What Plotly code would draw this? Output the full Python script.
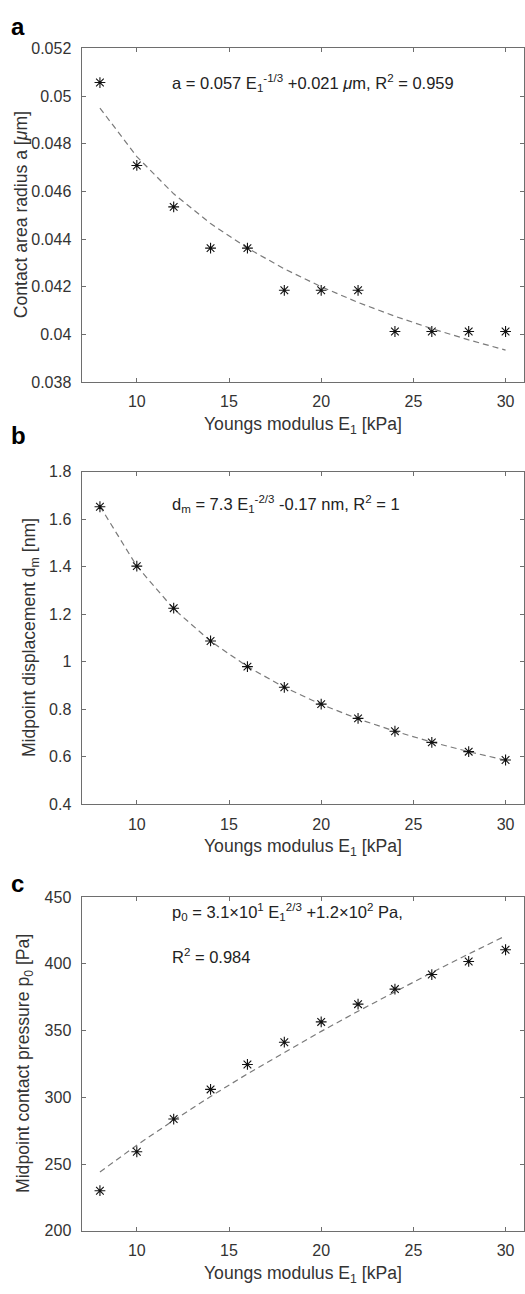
import plotly.graph_objects as go

# ---------------- data ----------------
E_kPa = [8, 10, 12, 14, 16, 18, 20, 22, 24, 26, 28, 30]

a_um = [0.05057, 0.04709, 0.04535, 0.04362, 0.04362, 0.04185,
        0.04185, 0.04185, 0.04012, 0.04012, 0.04012, 0.04012]
a_fit = [0.0495, 0.04746, 0.04590, 0.04465, 0.04362, 0.04275,
         0.04200, 0.04134, 0.04076, 0.04024, 0.03977, 0.03934]

dm_nm = [1.653, 1.403, 1.226, 1.088, 0.980, 0.893,
         0.822, 0.762, 0.708, 0.661, 0.622, 0.587]
dm_fit = [1.655, 1.403, 1.223, 1.087, 0.980, 0.893,
          0.821, 0.760, 0.708, 0.662, 0.622, 0.586]

p0_Pa = [230.0, 259.2, 283.7, 305.9, 324.6, 341.3,
         356.5, 369.8, 381.1, 392.0, 401.8, 410.6]
p0_fit = [244.0, 264.1, 282.8, 300.6, 317.6, 333.8,
          349.4, 364.5, 379.2, 393.5, 407.4, 421.0]

x_ticks = [10, 15, 20, 25, 30]
a_ticks = [0.038, 0.040, 0.042, 0.044, 0.046, 0.048, 0.050, 0.052]
a_ticktext = ["0.038", "0.04", "0.042", "0.044", "0.046", "0.048", "0.05", "0.052"]
dm_ticks = [0.4, 0.6, 0.8, 1.0, 1.2, 1.4, 1.6, 1.8]
dm_ticktext = ["0.4", "0.6", "0.8", "1", "1.2", "1.4", "1.6", "1.8"]
p0_ticks = [200, 250, 300, 350, 400, 450]
p0_ticktext = ["200", "250", "300", "350", "400", "450"]

# ---------------- layout helpers ----------------
W, H = 525, 1294
FONT = "Liberation Sans, Arial, Helvetica, sans-serif"
TXT = "#333333"
LINE = "#6e6e6e"
TICK_SIZE = 16
TITLE_SIZE = 17.6
EQ_SIZE = 16.5


def py(px):
    return 1 - px / H


def px_x(px):
    return px / W


x_dom = [px_x(81.5), px_x(524)]
panels = [  # top px, bottom px
    (41, 379),
    (470, 807),
    (901, 1239),
]

fig = go.Figure()

series = [
    (a_um, a_fit, "x", "y"),
    (dm_nm, dm_fit, "x2", "y2"),
    (p0_Pa, p0_fit, "x3", "y3"),
]
for data, fit, xa, ya in series:
    fig.add_trace(go.Scatter(
        x=E_kPa, y=fit, mode="lines", xaxis=xa, yaxis=ya,
        line=dict(color="#7a7a7a", width=1.2, dash="6px,4px"),
        showlegend=False, hoverinfo="skip"))
    fig.add_trace(go.Scatter(
        x=E_kPa, y=data, mode="markers", xaxis=xa, yaxis=ya,
        marker=dict(symbol="asterisk-open", size=9, color="#111111",
                    line=dict(color="#111111", width=1.1)),
        showlegend=False))

axis_common = dict(
    showline=True, linecolor=LINE, linewidth=1, mirror="ticks",
    ticks="inside", ticklen=4, tickcolor=LINE, tickwidth=1,
    showgrid=False, zeroline=False,
    tickfont=dict(family=FONT, size=TICK_SIZE, color=TXT),
)

yinfo = [
    ([0.038, 0.052], a_ticks, a_ticktext),
    ([0.4, 1.8], dm_ticks, dm_ticktext),
    ([200, 450], p0_ticks, p0_ticktext),
]

layout = dict(
    width=W, height=H,
    margin=dict(l=0, r=0, t=0, b=0),
    paper_bgcolor="white", plot_bgcolor="white",
    font=dict(family=FONT, size=TICK_SIZE, color=TXT),
)
for i, ((top, bot), (yr, yt, ytt)) in enumerate(zip(panels, yinfo)):
    sfx = "" if i == 0 else str(i + 1)
    layout["xaxis" + sfx] = dict(
        axis_common, domain=x_dom, range=[7, 31], tickvals=x_ticks,
        anchor="y" + sfx, ticklabelstandoff=5)
    layout["yaxis" + sfx] = dict(
        axis_common, domain=[py(bot), py(top)], range=yr, tickvals=yt,
        ticktext=ytt, anchor="x" + sfx, ticklabelstandoff=6)

fig.update_layout(**layout)

annotations = []
# panel letters
for letter, ypx in [("a", 19), ("b", 433), ("c", 887)]:
    annotations.append(dict(
        text="<b>%s</b>" % letter, xref="paper", yref="paper",
        x=px_x(9), y=py(ypx), xanchor="left", yanchor="middle",
        showarrow=False, font=dict(family=FONT, size=24, color="#000000")))

# x-axis titles
for top, bot in panels:
    annotations.append(dict(
        text="Youngs modulus E<sub>1</sub> [kPa]", xref="paper", yref="paper",
        x=(x_dom[0] + x_dom[1]) / 2, y=py(bot + 44), xanchor="center",
        yanchor="middle", showarrow=False,
        font=dict(family=FONT, size=TITLE_SIZE, color=TXT)))

# y-axis titles
ytitles = [
    ("Contact area radius a [<i>μ</i>m]", 21),
    ("Midpoint displacement d<sub>m</sub> [nm]", 30),
    ("Midpoint contact pressure p<sub>0</sub> [Pa]", 25),
]
for (top, bot), (txt, xc) in zip(panels, ytitles):
    annotations.append(dict(
        text=txt, xref="paper", yref="paper", x=px_x(xc),
        y=py((top + bot) / 2), xanchor="center", yanchor="middle",
        textangle=-90, showarrow=False,
        font=dict(family=FONT, size=TITLE_SIZE, color=TXT)))

# fit equations
eq_font = dict(family=FONT, size=EQ_SIZE, color="#222222")
annotations += [
    dict(text="a = 0.057 E<sub>1</sub><sup>-1/3</sup> +0.021 <i>μ</i>m, R<sup>2</sup> = 0.959",
         xref="x", yref="y", x=11.8, y=0.05057, xanchor="left", yanchor="middle",
         showarrow=False, font=eq_font),
    dict(text="d<sub>m</sub> = 7.3 E<sub>1</sub><sup>-2/3</sup> -0.17 nm, R<sup>2</sup> = 1",
         xref="x2", yref="y2", x=11.8, y=1.663, xanchor="left", yanchor="middle",
         showarrow=False, font=eq_font),
    dict(text="p<sub>0</sub> = 3.1×10<sup>1</sup> E<sub>1</sub><sup>2/3</sup> +1.2×10<sup>2</sup> Pa,",
         xref="x3", yref="y3", x=11.8, y=438.9, xanchor="left", yanchor="middle",
         showarrow=False, font=eq_font),
    dict(text="R<sup>2</sup> = 0.984",
         xref="x3", yref="y3", x=11.8, y=405.8, xanchor="left", yanchor="middle",
         showarrow=False, font=eq_font),
]
fig.update_layout(annotations=annotations)

fig.write_html(
    "out.html",
    config={"displayModeBar": False},
    post_script="document.body.style.margin='0';document.body.style.overflow='hidden';",
)
